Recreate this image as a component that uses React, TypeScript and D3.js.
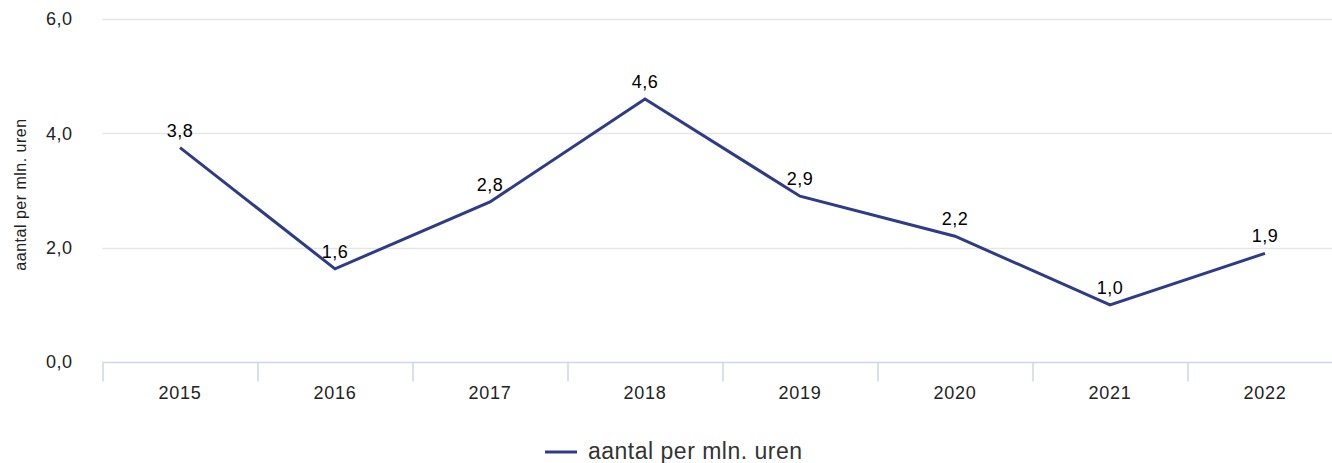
import React, { useEffect, useRef } from "react";
import * as d3 from "d3";

const years = ["2015", "2016", "2017", "2018", "2019", "2020", "2021", "2022"];
const values = [3.75, 1.63, 2.8, 4.6, 2.9, 2.2, 1.0, 1.9];
const labels = ["3,8", "1,6", "2,8", "4,6", "2,9", "2,2", "1,0", "1,9"];
const yTicks = [0, 2, 4, 6];
const seriesName = "aantal per mln. uren";
const axisTitle = "aantal per mln. uren";

export default function App() {
  const ref = useRef<SVGSVGElement>(null);

  useEffect(() => {
    drawChart();
  }, []);

  function drawChart() {
    const svg = d3.select(ref.current).html("");
    const font = "'Liberation Sans', Arial, sans-serif";
    const margin = { top: 19, left: 102.5 };
    const plotW = 8 * 155;
    const plotH = 343;

    const x = d3.scaleBand().domain(years).range([0, plotW]);
    const y = d3.scaleLinear().domain([0, 6]).range([plotH, 0]);

    const g = svg.append("g").attr("transform", "translate(" + margin.left + "," + margin.top + ")");

    // grid
    g.append("g")
      .selectAll("line")
      .data(yTicks.filter(d => d > 0))
      .join("line")
      .attr("x1", 0)
      .attr("x2", plotW)
      .attr("y1", d => Math.round(y(d)) + 0.5)
      .attr("y2", d => Math.round(y(d)) + 0.5)
      .attr("stroke", "#e6e6e6")
      .attr("stroke-width", 1.5);

    // y labels
    g.append("g")
      .selectAll("text")
      .data(yTicks)
      .join("text")
      .attr("x", -30)
      .attr("y", d => y(d))
      .attr("dy", "0.35em")
      .attr("text-anchor", "end")
      .style("font-family", font)
      .style("font-size", "18px")
      .style("letter-spacing", "0.5px")
      .attr("fill", "#222")
      .text(d => d3.format(".1f")(d).replace(".", ","));

    // x axis
    const xaxis = g.append("g").attr("transform", "translate(0," + (Math.round(plotH) + 0.5) + ")");
    xaxis.append("line")
      .attr("x1", 0).attr("x2", plotW)
      .attr("stroke", "#ccd6eb").attr("stroke-width", 1.5);
    xaxis.selectAll("line.tick")
      .data(years)
      .join("line")
      .attr("class", "tick")
      .attr("x1", d => Math.round(x(d)!) + 0.5)
      .attr("x2", d => Math.round(x(d)!) + 0.5)
      .attr("y1", 0).attr("y2", 19)
      .attr("stroke", "#ccd6eb").attr("stroke-width", 1.5);
    xaxis.selectAll("text")
      .data(years)
      .join("text")
      .attr("x", d => x(d)! + x.bandwidth() / 2)
      .attr("y", 36)
      .attr("text-anchor", "middle")
      .style("font-family", font)
      .style("font-size", "18px")
      .style("letter-spacing", "0.7px")
      .attr("fill", "#222")
      .text(d => d);

    // y axis title
    svg.append("text")
      .attr("transform", "translate(26," + (margin.top + plotH / 2 + 4) + ") rotate(-90)")
      .attr("text-anchor", "middle")
      .style("font-family", font)
      .style("font-size", "16px")
      .style("letter-spacing", "0.5px")
      .attr("fill", "#222")
      .text(axisTitle);

    // line
    const line = d3.line<number>()
      .x((d, i) => x(years[i])! + x.bandwidth() / 2)
      .y(d => y(d));

    g.append("path")
      .datum(values)
      .attr("d", line)
      .attr("fill", "none")
      .attr("stroke", "#2e3b8a")
      .attr("stroke-width", 3)
      .attr("stroke-linejoin", "miter");

    // data labels
    g.append("g")
      .selectAll("text")
      .data(values)
      .join("text")
      .attr("x", (d, i) => x(years[i])! + x.bandwidth() / 2)
      .attr("y", d => y(d) - 11)
      .attr("text-anchor", "middle")
      .style("font-family", font)
      .style("font-size", "18px")
      .style("letter-spacing", "0.5px")
      .attr("fill", "#000")
      .text((d, i) => labels[i]);

    // legend
    const leg = svg.append("g").attr("transform", "translate(545,452)");
    leg.append("line")
      .attr("x1", 0).attr("x2", 32)
      .attr("stroke", "#2e3b8a").attr("stroke-width", 3);
    leg.append("text")
      .attr("x", 43)
      .attr("y", 0)
      .attr("dy", "0.3em")
      .style("font-family", font)
      .style("font-size", "23px")
      .style("letter-spacing", "0.5px")
      .attr("fill", "#333")
      .text(seriesName);
  }

  return (
    <div style={{ position: "absolute", left: 0, top: 0 }}>
      <svg ref={ref} width={1332} height={463} style={{ display: "block" }}></svg>
    </div>
  );
}
